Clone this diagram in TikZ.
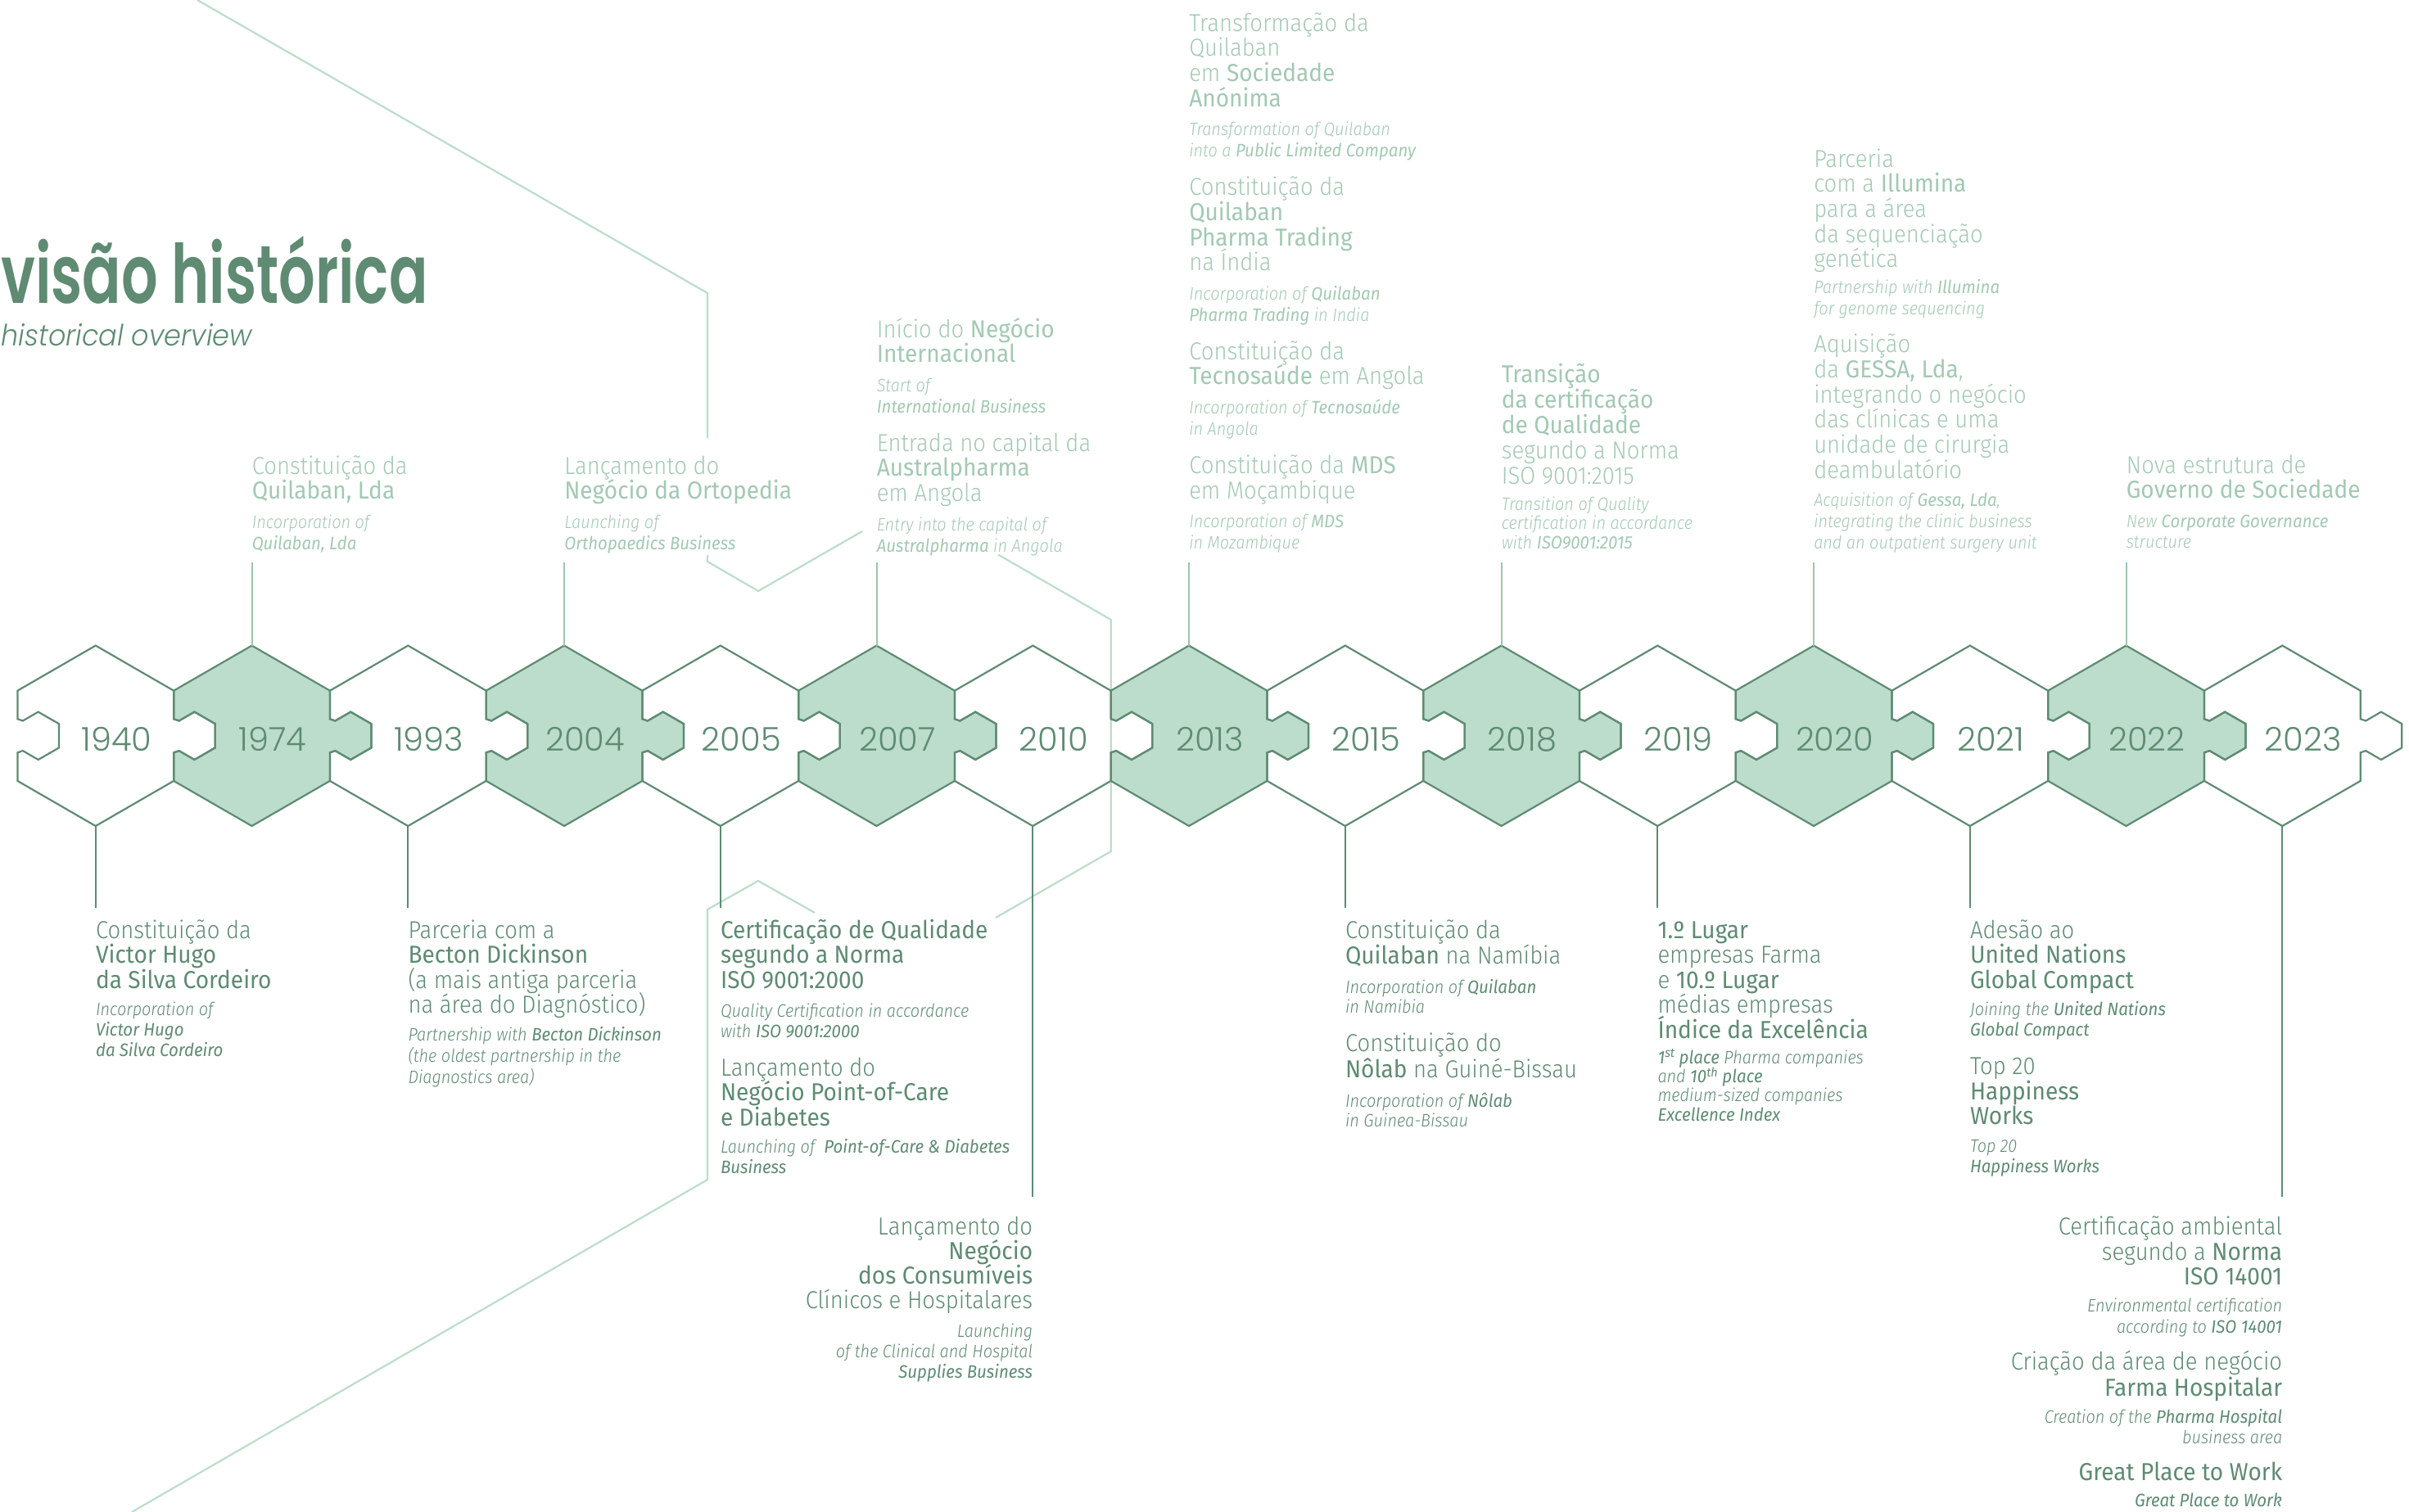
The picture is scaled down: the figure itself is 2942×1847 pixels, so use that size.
\documentclass[tikz,border=0pt]{standalone}
\usepackage{fontspec}
\IfFontExistsTF{Fira Sans Light}{%
 \IfFontExistsTF{Fira Sans Light Italic}{%
   \setmainfont{Fira Sans Light}[BoldFont={Fira Sans}, ItalicFont={Fira Sans Light Italic}, BoldItalicFont={Fira Sans Italic},
     UprightFeatures={FakeStretch=0.915}, BoldFeatures={FakeStretch=0.935}, ItalicFeatures={FakeStretch=0.905}, BoldItalicFeatures={FakeStretch=0.93}]}{%
   \setmainfont{Fira Sans Light}[BoldFont={Fira Sans}, ItalicFont={Fira Sans Italic}, BoldItalicFont={Fira Sans Bold Italic},
     UprightFeatures={FakeStretch=0.915}, BoldFeatures={FakeStretch=0.935}, ItalicFeatures={FakeStretch=0.905}, BoldItalicFeatures={FakeStretch=0.93}]}}{%
 \setmainfont{Fira Sans}[FakeStretch=0.9]}
\IfFontExistsTF{Poppins Light}{\newfontfamily\yearfont{Poppins Light}}{\newfontfamily\yearfont{Poppins}}
\IfFontExistsTF{Poppins SemiBold}{\newfontfamily\titlefont{Poppins SemiBold}[FakeStretch=0.70]}{\newfontfamily\titlefont{Poppins}[FakeStretch=0.70]}
\IfFontExistsTF{Poppins Light Italic}{\newfontfamily\subfont{Poppins Light Italic}[FakeStretch=0.93]}{%
  \IfFontExistsTF{Poppins Italic}{\newfontfamily\subfont{Poppins Italic}[FakeStretch=0.93]}{%
    \IfFontExistsTF{Fira Sans Light Italic}{\newfontfamily\subfont{Fira Sans Light Italic}}{\newfontfamily\subfont{Fira Sans Italic}}}}

\definecolor{cDark}{HTML}{5E8B72}
\definecolor{cFill}{HTML}{BCDDCB}
\definecolor{cTop}{HTML}{A3C9B3}
\definecolor{cConn}{HTML}{9DC6AE}
\definecolor{cDeco}{HTML}{BCDDCB}

\newcommand\TxM[1]{\smash{\fontsize{30}{30}\selectfont #1}}
\newcommand\TxI[1]{\smash{\fontsize{22}{22}\selectfont\itshape #1}}
\newcommand\TxN[1]{\cr\noalign{\vskip#1pt}}
\newcommand\BlkL[1]{\vtop{\offinterlineskip\halign{##\hfil\cr#1\crcr}}}
\newcommand\BlkR[1]{\vtop{\offinterlineskip\halign{\hfil##\cr#1\crcr}}}

\newcommand\piecepath{(0,-110.2) -- (95.4,-55.1) -- (95.4,-20.5) -- (101.9,-18.3) -- (120.7,-29.2) -- (146,-14.6) -- (146,14.6) -- (120.7,29.2) -- (101.9,18.3) -- (95.4,20.5) -- (95.4,55.1) -- (0,110.2) -- (-95.4,55.1) -- (-95.4,20.5) -- (-88.9,18.3) -- (-70.1,29.2) -- (-44.8,14.6) -- (-44.8,-14.6) -- (-70.1,-29.2) -- (-88.9,-18.3) -- (-95.4,-20.5) -- (-95.4,-55.1) -- cycle}

\tikzset{
  deco/.style={draw=cDeco, line width=2.2},
  outl/.style={draw=cDark, line width=2.2},
  connU/.style={draw=cConn, line width=2},
  connL/.style={draw=cDark, line width=2},
  topblk/.style={inner sep=0, anchor=base west, text=cTop},
  botblk/.style={inner sep=0, anchor=base west, text=cDark},
  botblkR/.style={inner sep=0, anchor=base east, text=cDark},
  yearS/.style={inner sep=0, anchor=base, text=cDark, font=\yearfont\fontsize{40}{40}\selectfont}
}

\begin{document}
\begin{tikzpicture}[x=1pt,y=-1pt]
\useasboundingbox (0,0) rectangle (2942,1847);
\fill[white] (0,0) rectangle (2942,1847);

% decorative background lines
\coordinate (d1) at (241,0);
\coordinate (d2) at (864,358);
\coordinate (d3) at (864,535);
\draw[deco] (d1) -- (d2) -- (d3);
\coordinate (d4) at (864,678);
\coordinate (d5) at (864,686);
\coordinate (d6) at (926,722);
\coordinate (d7) at (1053,649);
\draw[deco] (d4) -- (d5) -- (d6) -- (d7);
\coordinate (d8) at (1219,677.5);
\coordinate (d9) at (1356.7,757);
\coordinate (d10) at (1356.7,1040);
\coordinate (d11) at (1216,1121);
\draw[deco] (d8) -- (d9) -- (d10) -- (d11);
\coordinate (d12) at (995,1115);
\coordinate (d13) at (926,1076);
\coordinate (d14) at (864,1111);
\coordinate (d15) at (864,1441);
\coordinate (d16) at (161,1847);
\draw[deco] (d12) -- (d13) -- (d14) -- (d15) -- (d16);

% hexagon centres
\foreach \i/\yr in {0/1940,1/1974,2/1993,3/2004,4/2005,5/2007,6/2010,7/2013,8/2015,9/2018,10/2019,11/2020,12/2021,13/2022,14/2023}{
  \pgfmathsetmacro\cx{116.8+190.75*\i}
  \coordinate (hc\yr) at (\cx,898.8);
  \coordinate (ht\yr) at (\cx,788.6);
  \coordinate (hb\yr) at (\cx,1009);
}
\foreach \yr in {1974,2004,2007,2013,2018,2020,2022}{
  \fill[cFill, shift={(hc\yr)}] \piecepath;
}
\foreach \yr in {1940,1974,1993,2004,2005,2007,2010,2013,2015,2018,2019,2020,2021,2022,2023}{
  \draw[outl, shift={(hc\yr)}] \piecepath;
  \node[yearS] (y\yr) at ([shift={(25.5,18.2)}]hc\yr) {\yr};
}

% upper connectors
\foreach \yr in {1974,2004,2007,2013,2018,2020,2022}{
  \coordinate (u\yr) at ([yshift=102pt]ht\yr);
  \draw[connU] (u\yr) -- (ht\yr);
}
% lower connectors
\foreach \yr in {1940,1993,2005,2015,2019,2021}{
  \coordinate (l\yr) at ([yshift=-100pt]hb\yr);
  \draw[connL] (hb\yr) -- (l\yr);
}
\foreach \yr in {2010,2023}{
  \coordinate (l\yr) at ([yshift=-452.6pt]hb\yr);
  \draw[connL] (hb\yr) -- (l\yr);
}

% title
\node[inner sep=0, anchor=base west, text=cDark, font=\titlefont\fontsize{100}{100}\selectfont] (title) at (1,370.5) {visão histórica};
\node[inner sep=0, anchor=base west, text=cDark, font=\subfont\fontsize{36}{36}\selectfont] (subtitle) at (1,422) {historical overview};

% upper blocks
\node[topblk] (t1974) at (307.55,579) {\BlkL{\TxM{Constituição da}\TxN{30.7}\TxM{\textbf{Quilaban, Lda}}\TxN{35.5}\TxI{Incorporation of}\TxN{26}\TxI{\textbf{Quilaban, Lda}}}};
\node[topblk] (t2004) at (689.05,579) {\BlkL{\TxM{Lançamento do}\TxN{30.7}\TxM{\textbf{Negócio da Ortopedia}}\TxN{35.5}\TxI{Launching of}\TxN{26}\TxI{\textbf{Orthopaedics Business}}}};
\node[topblk] (t2007) at (1070.55,412) {\BlkL{\TxM{Início do \textbf{Negócio}}\TxN{30.7}\TxM{\textbf{Internacional}}\TxN{35.5}\TxI{Start of}\TxN{26}\TxI{\textbf{International Business}}\TxN{47}\TxM{Entrada no capital da}\TxN{30.7}\TxM{\textbf{Australpharma}}\TxN{30.7}\TxM{em Angola}\TxN{35.5}\TxI{Entry into the capital of}\TxN{26}\TxI{\textbf{Australpharma} in Angola}}};
\node[topblk] (t2013) at (1452.05,38) {\BlkL{\TxM{Transformação da}\TxN{30.7}\TxM{Quilaban}\TxN{30.7}\TxM{em \textbf{Sociedade}}\TxN{30.7}\TxM{\textbf{Anónima}}\TxN{35.5}\TxI{Transformation of Quilaban}\TxN{26}\TxI{into a \textbf{Public Limited Company}}\TxN{47}\TxM{Constituição da}\TxN{30.7}\TxM{\textbf{Quilaban}}\TxN{30.7}\TxM{\textbf{Pharma Trading}}\TxN{30.7}\TxM{na Índia}\TxN{35.5}\TxI{Incorporation of \textbf{Quilaban}}\TxN{26}\TxI{\textbf{Pharma Trading} in India}\TxN{47}\TxM{Constituição da}\TxN{30.7}\TxM{\textbf{Tecnosaúde} em Angola}\TxN{35.5}\TxI{Incorporation of \textbf{Tecnosaúde}}\TxN{26}\TxI{in Angola}\TxN{47}\TxM{Constituição da \textbf{MDS}}\TxN{30.7}\TxM{em Moçambique}\TxN{35.5}\TxI{Incorporation of \textbf{MDS}}\TxN{26}\TxI{in Mozambique}}};
\node[topblk] (t2018) at (1833.55,467) {\BlkL{\TxM{\textbf{Transição}}\TxN{31}\TxM{\textbf{da certificação}}\TxN{31}\TxM{\textbf{de Qualidade}}\TxN{31}\TxM{segundo a Norma}\TxN{31}\TxM{ISO 9001:2015}\TxN{32}\TxI{Transition of Quality}\TxN{23.5}\TxI{certification in accordance}\TxN{23.5}\TxI{with \textbf{ISO9001:2015}}}};
\node[topblk] (t2020) at (2215.05,204) {\BlkL{\TxM{Parceria}\TxN{30.7}\TxM{com a \textbf{Illumina}}\TxN{30.7}\TxM{para a área}\TxN{30.7}\TxM{da sequenciação}\TxN{30.7}\TxM{genética}\TxN{32}\TxI{Partnership with \textbf{Illumina}}\TxN{26}\TxI{for genome sequencing}\TxN{46}\TxM{Aquisição}\TxN{30.7}\TxM{da \textbf{GESSA, Lda},}\TxN{30.7}\TxM{integrando o negócio}\TxN{30.7}\TxM{das clínicas e uma}\TxN{30.7}\TxM{unidade de cirurgia}\TxN{30.7}\TxM{deambulatório}\TxN{34.5}\TxI{Acquisition of \textbf{Gessa, Lda},}\TxN{26}\TxI{integrating the clinic business}\TxN{26}\TxI{and an outpatient surgery unit}}};
\node[topblk] (t2022) at (2596.55,578) {\BlkL{\TxM{Nova estrutura de}\TxN{30.7}\TxM{\textbf{Governo de Sociedade}}\TxN{36}\TxI{New \textbf{Corporate Governance}}\TxN{25}\TxI{structure}}};

% lower blocks
\node[botblk] (b1940) at (116.8,1146) {\BlkL{\TxM{Constituição da}\TxN{30.6}\TxM{\textbf{Victor Hugo}}\TxN{30.6}\TxM{\textbf{da Silva Cordeiro}}\TxN{33.5}\TxI{Incorporation of}\TxN{25}\TxI{\textbf{Victor Hugo}}\TxN{25}\TxI{\textbf{da Silva Cordeiro}}}};
\node[botblk] (b1993) at (498.3,1146) {\BlkL{\TxM{Parceria com a}\TxN{30.6}\TxM{\textbf{Becton Dickinson}}\TxN{30.6}\TxM{(a mais antiga parceria}\TxN{30.6}\TxM{na área do Diagnóstico)}\TxN{34}\TxI{Partnership with \textbf{Becton Dickinson}}\TxN{25.7}\TxI{(the oldest partnership in the}\TxN{25.7}\TxI{Diagnostics area)}}};
\node[botblk] (b2005) at (879.8,1146) {\BlkL{\TxM{\textbf{Certificação de Qualidade}}\TxN{30.6}\TxM{\textbf{segundo a Norma}}\TxN{30.6}\TxM{\textbf{ISO 9001:2000}}\TxN{35}\TxI{Quality Certification in accordance}\TxN{25.5}\TxI{with \textbf{ISO 9001:2000}}\TxN{46.5}\TxM{Lançamento do}\TxN{30.6}\TxM{\textbf{Negócio Point-of-Care}}\TxN{30.6}\TxM{\textbf{e Diabetes}}\TxN{33}\TxI{Launching of\ \ \textbf{Point-of-Care \& Diabetes}}\TxN{25}\TxI{\textbf{Business}}}};
\node[botblkR] (b2010) at (1261.3,1508) {\BlkR{\TxM{Lançamento do}\TxN{30.2}\TxM{\textbf{Negócio}}\TxN{30.2}\TxM{\textbf{dos Consumíveis}}\TxN{30.2}\TxM{Clínicos e Hospitalares}\TxN{34.5}\TxI{Launching}\TxN{25}\TxI{of the Clinical and Hospital}\TxN{25}\TxI{\textbf{Supplies Business}}}};
\node[botblk] (b2015) at (1642.8,1146) {\BlkL{\TxM{Constituição da}\TxN{31}\TxM{\textbf{Quilaban} na Namíbia}\TxN{36}\TxI{Incorporation of \textbf{Quilaban}}\TxN{24.5}\TxI{in Namibia}\TxN{46.5}\TxM{Constituição do}\TxN{32}\TxM{\textbf{Nôlab} na Guiné-Bissau}\TxN{36}\TxI{Incorporation of \textbf{Nôlab}}\TxN{24.5}\TxI{in Guinea-Bissau}}};
\node[botblk] (b2019) at (2024.3,1146) {\BlkL{\TxM{\textbf{1.º Lugar}}\TxN{30.6}\TxM{empresas Farma}\TxN{30.6}\TxM{e \textbf{10.º Lugar}}\TxN{30.6}\TxM{médias empresas}\TxN{30.6}\TxM{\textbf{Índice da Excelência}}\TxN{31}\TxI{\textbf{1\textsuperscript{st} place} Pharma companies}\TxN{23.2}\TxI{and \textbf{10\textsuperscript{th} place}}\TxN{23.2}\TxI{medium-sized companies}\TxN{23.2}\TxI{\textbf{Excellence Index}}}};
\node[botblk] (b2021) at (2405.8,1146) {\BlkL{\TxM{Adesão ao}\TxN{30.6}\TxM{\textbf{United Nations}}\TxN{30.6}\TxM{\textbf{Global Compact}}\TxN{33.3}\TxI{Joining the \textbf{United Nations}}\TxN{25.4}\TxI{\textbf{Global Compact}}\TxN{46.5}\TxM{Top 20}\TxN{30.6}\TxM{\textbf{Happiness}}\TxN{30.6}\TxM{\textbf{Works}}\TxN{34}\TxI{Top 20}\TxN{24.5}\TxI{\textbf{Happiness Works}}}};
\node[botblkR] (b2023) at (2787.3,1508) {\BlkR{\TxM{Certificação ambiental}\TxN{31}\TxM{segundo a \textbf{Norma}}\TxN{30.2}\TxM{\textbf{ISO 14001}}\TxN{33.3}\TxI{Environmental certification}\TxN{25.5}\TxI{according to \textbf{ISO 14001}}\TxN{45.4}\TxM{Criação da área de negócio}\TxN{31.8}\TxM{\textbf{Farma Hospitalar}}\TxN{32.8}\TxI{Creation of the \textbf{Pharma Hospital}}\TxN{25.5}\TxI{business area}\TxN{44.5}\TxM{\textbf{Great Place to Work}}\TxN{32.8}\TxI{\textbf{Great Place to Work}}}};
\end{tikzpicture}
\end{document}
